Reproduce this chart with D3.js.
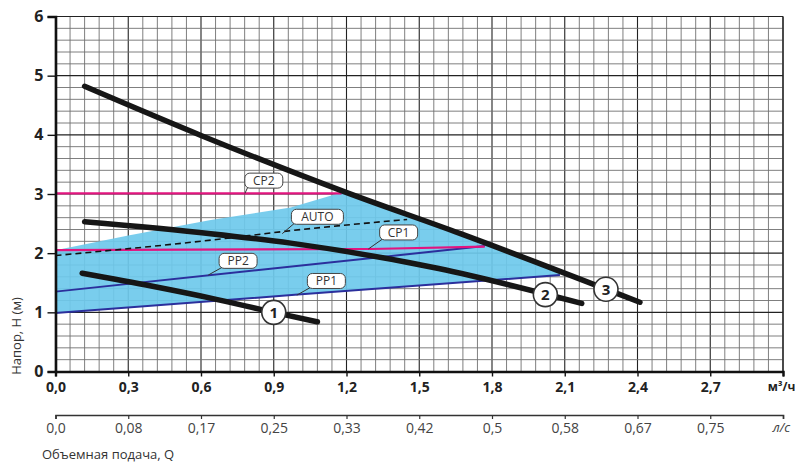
<!DOCTYPE html>
<html>
<head>
<meta charset="utf-8">
<script src="https://cdn.jsdelivr.net/npm/d3@7"></script>
<style>
  html, body { margin: 0; padding: 0; background: #fff; }
  svg { display: block; font-family: "Open Sans", "Noto Sans", sans-serif; }
</style>
</head>
<body>
<svg id="chart" width="795" height="469"></svg>
<script>
// Flow axis (m³/h) and head axis (m)
const qTicks = [0, 0.3, 0.6, 0.9, 1.2, 1.5, 1.8, 2.1, 2.4, 2.7, 3.0];
const qLabels = ["0,0", "0,3", "0,6", "0,9", "1,2", "1,5", "1,8", "2,1", "2,4", "2,7", "м³/ч"];
const lsLabels = ["0,0", "0,08", "0,17", "0,25", "0,33", "0,42", "0,5", "0,58", "0,67", "0,75", "л/с"];
const hTicks = [0, 1, 2, 3, 4, 5, 6];

// Pump curves for speeds 1, 2, 3
const curve1Q = [0.11, 0.40, 0.64, 0.90, 1.08];
const curve1H = [1.66, 1.44, 1.24, 1.00, 0.84];
const curve2Q = [0.12, 0.64, 0.97, 1.58, 2.17];
const curve2H = [2.53, 2.33, 2.17, 1.74, 1.15];
const curve3Q = [0.12, 0.60, 1.19, 1.67, 2.41];
const curve3H = [4.82, 3.99, 3.04, 2.33, 1.17];

// Control-mode lines
const cp2Q = [0, 1.18];
const cp2H = [3.01, 3.01];
const cp1Q = [0, 1.30, 1.77];
const cp1H = [2.05, 2.07, 2.11];
const pp2Q = [0, 1.77];
const pp2H = [1.35, 2.12];
const pp1Q = [0, 1.00, 2.08];
const pp1H = [0.99, 1.30, 1.63];
const autoQ = [0, 0.64, 0.97, 1.45];
const autoH = [1.96, 2.22, 2.38, 2.57];

// AUTO operating zone: upper edge, then lower edge
const zoneTopQ = [0, 0.30, 0.64, 0.97, 1.19, 1.67, 2.08];
const zoneTopH = [2.05, 2.30, 2.56, 2.77, 3.04, 2.33, 1.68];
const zoneBottomQ = [2.08, 1.00, 0];
const zoneBottomH = [1.63, 1.30, 0.99];

// Mode tags: text, tag centre (Q, H), pointer end (Q, H)
const tagNames = ["CP2", "AUTO", "CP1", "PP2", "PP1"];
const tagQ = [0.859, 1.080, 1.415, 0.753, 1.117];
const tagH = [3.226, 2.615, 2.350, 1.870, 1.530];
const tagPtrQ = [0.781, 0.935, 1.290, 0.630, 0.995];
const tagPtrH = [3.010, 2.330, 2.070, 1.630, 1.290];

// Speed markers sitting on the curves
const speedNames = ["1", "2", "3"];
const speedQ = [0.90, 2.02, 2.27];
const speedH = [1.00, 1.30, 1.39];

const svg = d3.select("#chart");
const x = d3.scaleLinear().domain([0, 3]).range([55.5, 783]);
const y = d3.scaleLinear().domain([0, 6]).range([371.5, 16.5]);

const zip = (qs, hs) => qs.map((q, i) => [q, hs[i]]);
const line = d3.line().x(d => x(d[0])).y(d => y(d[1]));
const smooth = d3.line().x(d => x(d[0])).y(d => y(d[1])).curve(d3.curveMonotoneX);

// Grid
const grid = svg.append("g");
d3.range(0, 51).forEach(i => {
  const q = i * 0.06;
  const major = i % 5 === 0;
  grid.append("line")
    .attr("x1", x(q)).attr("x2", x(q))
    .attr("y1", y(0)).attr("y2", y(6))
    .attr("stroke", major ? "#222" : "#707070")
    .attr("stroke-width", major ? 1.1 : 0.9);
});
d3.range(0, 31).forEach(i => {
  const h = i * 0.2;
  const major = i % 5 === 0;
  grid.append("line")
    .attr("x1", x(0)).attr("x2", x(3))
    .attr("y1", y(h)).attr("y2", y(h))
    .attr("stroke", major ? "#222" : "#707070")
    .attr("stroke-width", major ? 1.1 : 0.9);
});

// AUTO zone
const zonePts = zip(zoneTopQ, zoneTopH).concat(zip(zoneBottomQ, zoneBottomH));
svg.append("path")
  .attr("d", line(zonePts) + "Z")
  .attr("fill", "#6ec9ec")
  .attr("fill-opacity", 0.92);

// Proportional-pressure lines
[[pp1Q, pp1H], [pp2Q, pp2H]].forEach(([q, h]) => {
  svg.append("path").attr("d", line(zip(q, h)))
    .attr("fill", "none").attr("stroke", "#2b2f9c").attr("stroke-width", 2);
});
// Constant-pressure lines
[[cp1Q, cp1H], [cp2Q, cp2H]].forEach(([q, h]) => {
  svg.append("path").attr("d", line(zip(q, h)))
    .attr("fill", "none").attr("stroke", "#e2147f").attr("stroke-width", 2.2);
});
// AUTO line
svg.append("path").attr("d", smooth(zip(autoQ, autoH)))
  .attr("fill", "none").attr("stroke", "#111").attr("stroke-width", 1.6)
  .attr("stroke-dasharray", "6,4");

// Pump curves
[[curve1Q, curve1H], [curve2Q, curve2H], [curve3Q, curve3H]].forEach(([q, h]) => {
  svg.append("path").attr("d", smooth(zip(q, h)))
    .attr("fill", "none").attr("stroke", "#161616")
    .attr("stroke-width", 5.5).attr("stroke-linecap", "round");
});

// Mode tags
tagNames.forEach((t, i) => {
  const cx = x(tagQ[i]), cy = y(tagH[i]);
  const w = t.length > 3 ? 52 : 38, hgt = 15;
  const g = svg.append("g");
  g.append("line")
    .attr("x1", cx - w / 2 + 3).attr("y1", cy + hgt / 2 - 1)
    .attr("x2", x(tagPtrQ[i])).attr("y2", y(tagPtrH[i]))
    .attr("stroke", "#333").attr("stroke-width", 1);
  g.append("rect")
    .attr("x", cx - w / 2).attr("y", cy - hgt / 2)
    .attr("width", w).attr("height", hgt)
    .attr("rx", 5).attr("ry", 5)
    .attr("fill", "#fff").attr("stroke", "#444").attr("stroke-width", 1);
  g.append("text")
    .attr("x", cx).attr("y", cy + 4.3)
    .attr("text-anchor", "middle")
    .attr("font-size", 12).attr("fill", "#333")
    .text(t);
});

// Speed markers
speedNames.forEach((s, i) => {
  const cx = x(speedQ[i]), cy = y(speedH[i]);
  svg.append("circle").attr("cx", cx).attr("cy", cy).attr("r", 12)
    .attr("fill", "#fff").attr("stroke", "#333").attr("stroke-width", 1.6);
  svg.append("text").attr("x", cx).attr("y", cy + 5.5)
    .attr("text-anchor", "middle").attr("font-size", 15).attr("font-weight", 700)
    .attr("fill", "#222").text(s);
});

// Frame (top and right)
svg.append("line").attr("x1", x(0)).attr("x2", x(3)).attr("y1", y(6)).attr("y2", y(6))
  .attr("stroke", "#222").attr("stroke-width", 1.2);
svg.append("line").attr("x1", x(3)).attr("x2", x(3)).attr("y1", y(6)).attr("y2", y(0))
  .attr("stroke", "#222").attr("stroke-width", 1.2);

// Head axis
const yAxis = svg.append("g").attr("transform", `translate(${x(0)},0)`)
  .call(d3.axisLeft(y).tickValues(hTicks).tickSize(8).tickPadding(4).tickFormat(d3.format("d")));
yAxis.select(".domain").attr("stroke", "#111").attr("stroke-width", 2.6);
yAxis.selectAll(".tick line").attr("stroke", "#111").attr("stroke-width", 1.4);
yAxis.selectAll(".tick text").attr("font-size", 16).attr("font-weight", 700)
  .attr("fill", "#222").attr("font-family", "'Open Sans', sans-serif");

// Flow axis, m³/h
const xAxis = svg.append("g").attr("transform", `translate(0,${y(0)})`)
  .call(d3.axisBottom(x).tickValues(qTicks).tickSize(5).tickPadding(6)
    .tickFormat((d, i) => qLabels[i]));
xAxis.select(".domain").attr("stroke", "#111").attr("stroke-width", 2.4);
xAxis.selectAll(".tick line").attr("stroke", "#111").attr("stroke-width", 1.4);
xAxis.selectAll(".tick text").attr("font-size", 14).attr("font-weight", 700)
  .attr("fill", "#222").attr("font-family", "'Open Sans', sans-serif");
xAxis.selectAll(".tick").filter((d, i) => i === qTicks.length - 1).select("text")
  .attr("font-size", 12).attr("dx", -2);

// Flow axis, l/s
const lsAxis = svg.append("g").attr("transform", "translate(0,415)")
  .call(d3.axisBottom(x).tickValues(qTicks).tickSize(4).tickPadding(4)
    .tickFormat((d, i) => lsLabels[i]));
lsAxis.select(".domain").attr("stroke", "#333").attr("stroke-width", 1.6);
lsAxis.selectAll(".tick line").attr("stroke", "#333").attr("stroke-width", 1.2);
lsAxis.selectAll(".tick text").attr("font-size", 14).attr("font-weight", 400)
  .attr("fill", "#444").attr("font-family", "'Open Sans', sans-serif");
lsAxis.selectAll(".tick").filter((d, i) => i === qTicks.length - 1).select("text")
  .attr("font-size", 13).attr("font-style", "italic").attr("dx", -2);

// Axis titles
svg.append("text").attr("x", 42).attr("y", 459)
  .attr("font-size", 13).attr("fill", "#333").text("Объемная подача, Q");
svg.append("text")
  .attr("transform", "translate(21,336) rotate(-90)")
  .attr("text-anchor", "middle").attr("font-size", 13).attr("fill", "#333")
  .text("Напор, H (м)");
</script>
</body>
</html>
